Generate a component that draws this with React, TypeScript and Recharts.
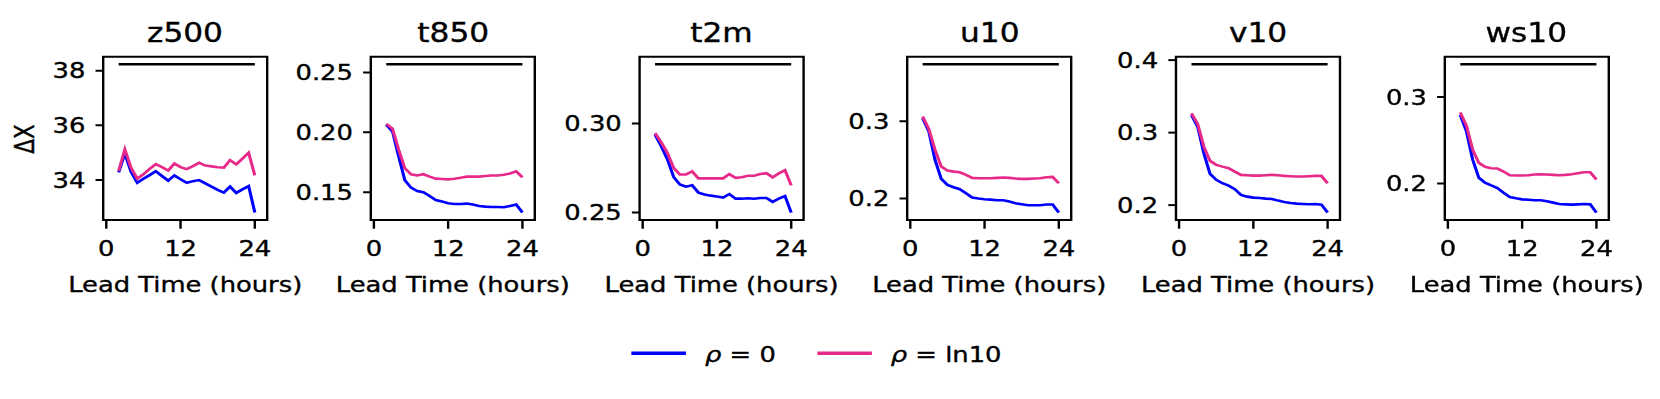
import { LineChart, Line, XAxis, YAxis, ReferenceArea } from 'recharts'

// lead time in hours
const hours = [2, 3, 4, 5, 6, 7, 8, 9, 10, 11, 12, 13, 14, 15, 16, 17, 18, 19, 20, 21, 22, 23, 24]

const z500Rho0 = [34.28, 34.97, 34.3, 33.9, 34.05, 34.18, 34.32, 34.15, 33.98, 34.17, 34.03, 33.9, 33.96, 34.0, 33.88, 33.76, 33.64, 33.54, 33.76, 33.53, 33.66, 33.78, 32.81]
const z500Ln10 = [34.33, 35.12, 34.45, 34.05, 34.21, 34.41, 34.58, 34.47, 34.35, 34.6, 34.47, 34.4, 34.51, 34.63, 34.53, 34.5, 34.47, 34.45, 34.73, 34.57, 34.78, 35.0, 34.17]
const t850Rho0 = [0.2064, 0.2008, 0.18, 0.16, 0.1538, 0.151, 0.15, 0.1468, 0.1435, 0.1422, 0.1408, 0.1402, 0.1402, 0.1405, 0.1397, 0.1385, 0.138, 0.1377, 0.1377, 0.1374, 0.1385, 0.1397, 0.133]
const t850Ln10 = [0.207, 0.203, 0.1856, 0.17, 0.1649, 0.164, 0.165, 0.163, 0.1613, 0.161, 0.1607, 0.1613, 0.162, 0.163, 0.163, 0.163, 0.1635, 0.164, 0.164, 0.1646, 0.1657, 0.1674, 0.1624]
const t2mRho0 = [0.2937, 0.2872, 0.2798, 0.27, 0.2658, 0.2645, 0.2653, 0.2612, 0.2602, 0.2595, 0.259, 0.2584, 0.2604, 0.2578, 0.2578, 0.258, 0.2578, 0.2582, 0.2582, 0.256, 0.2578, 0.2593, 0.25]
const t2mLn10 = [0.2946, 0.2894, 0.2835, 0.2751, 0.2714, 0.2714, 0.2731, 0.2692, 0.2692, 0.2692, 0.2692, 0.2692, 0.2716, 0.2695, 0.2698, 0.2707, 0.2707, 0.2716, 0.2721, 0.2698, 0.272, 0.2738, 0.2653]
const u10Rho0 = [0.304, 0.2867, 0.25, 0.2255, 0.2177, 0.2147, 0.2121, 0.207, 0.2013, 0.2, 0.1991, 0.1987, 0.1979, 0.1979, 0.1961, 0.194, 0.1927, 0.1914, 0.1914, 0.1914, 0.1923, 0.1923, 0.1819]
const u10Ln10 = [0.3061, 0.2898, 0.263, 0.2414, 0.2362, 0.2349, 0.2341, 0.2307, 0.2268, 0.2264, 0.2264, 0.2264, 0.2268, 0.2272, 0.2268, 0.2259, 0.2255, 0.2255, 0.2259, 0.2264, 0.2277, 0.228, 0.2199]
const v10Rho0 = [0.3244, 0.3083, 0.2716, 0.243, 0.2348, 0.2302, 0.2269, 0.222, 0.2141, 0.2117, 0.2103, 0.2099, 0.209, 0.2085, 0.2062, 0.2044, 0.203, 0.2021, 0.2016, 0.2012, 0.2016, 0.2007, 0.1897]
const v10Ln10 = [0.3268, 0.312, 0.2807, 0.261, 0.2555, 0.2531, 0.2509, 0.2462, 0.2417, 0.2412, 0.2407, 0.2407, 0.2412, 0.2417, 0.2412, 0.2403, 0.2398, 0.2394, 0.2394, 0.2398, 0.2403, 0.2403, 0.2302]
const ws10Rho0 = [0.2793, 0.2601, 0.2276, 0.2066, 0.2008, 0.1977, 0.1946, 0.1893, 0.1843, 0.1828, 0.1816, 0.1812, 0.1805, 0.1805, 0.1793, 0.1778, 0.1762, 0.1758, 0.1755, 0.1758, 0.1762, 0.1758, 0.1663]
const ws10Ln10 = [0.282, 0.2667, 0.2391, 0.2238, 0.2192, 0.2176, 0.2172, 0.2138, 0.2095, 0.2092, 0.2092, 0.2095, 0.2103, 0.2107, 0.2103, 0.2099, 0.2095, 0.2099, 0.2107, 0.2119, 0.213, 0.213, 0.2046]

// black reference level per variable
const refLevels = [38.24, 0.2569, 0.3333, 0.374, 0.3945, 0.338]
const titles = ['z500', 't850', 't2m', 'u10', 'v10', 'ws10']
const yTicks = [[34, 36, 38], [0.15, 0.2, 0.25], [0.25, 0.3], [0.2, 0.3], [0.2, 0.3, 0.4], [0.2, 0.3]]
const tickDigits = [0, 2, 2, 1, 1, 1]
const xTicks = [0, 12, 24]

const rho0 = [z500Rho0, t850Rho0, t2mRho0, u10Rho0, v10Rho0, ws10Rho0]
const ln10 = [z500Ln10, t850Ln10, t2mLn10, u10Ln10, v10Ln10, ws10Ln10]

const FONT = '"DejaVu Sans", sans-serif'
const SX = 1.2 // the whole figure is stretched horizontally
const BOX_W = 136.67
const Y_W = 80
const RIGHT = 50
const X_DOMAIN = [-0.5, 26]
const BLUE = '#0000ff'
const PINK = '#e7298a'
const TEXT_STROKE = 0.35
const FS = 21.5

function Panel({ i }: { i: number }) {
  const data = hours.map((h, k) => ({ hour: h, rho0: rho0[i][k], ln10: ln10[i][k], ref: refLevels[i] }))
  const all = [...rho0[i], ...ln10[i], refLevels[i]]
  const lo = Math.min(...all)
  const hi = Math.max(...all)
  const pad = (hi - lo) * 0.05
  const domain = [lo - pad, hi + pad]
  const left = 85.83 + i * 223.55 - Y_W
  const tickStyle = { fill: '#000', fontSize: FS, fontFamily: FONT, stroke: '#000', strokeWidth: TEXT_STROKE }

  return (
    <div style={{ position: 'absolute', left, top: 0 }}>
      <div
        style={{
          position: 'absolute', left: Y_W, width: BOX_W, top: 20, textAlign: 'center',
          fontSize: 26, lineHeight: '26px', fontFamily: FONT, color: '#000', whiteSpace: 'nowrap',
          WebkitTextStroke: `${TEXT_STROKE}px #000`
        }}
      >
        {titles[i]}
      </div>
      <LineChart width={Y_W + BOX_W + RIGHT} height={300} data={data} margin={{ top: 56.7, right: RIGHT, bottom: 0, left: 0 }}>
        <XAxis
          dataKey="hour"
          type="number"
          domain={X_DOMAIN}
          allowDataOverflow
          ticks={xTicks}
          height={80}
          tickSize={8.7}
          tickMargin={12}
          axisLine={false}
          tickLine={{ stroke: '#000', strokeWidth: 2 }}
          tick={tickStyle}
          label={{ value: 'Lead Time (hours)', position: 'insideBottom', offset: 8, ...tickStyle }}
        />
        <YAxis
          type="number"
          domain={domain}
          allowDataOverflow
          ticks={yTicks[i]}
          tickFormatter={(v: number) => v.toFixed(tickDigits[i])}
          width={Y_W}
          tickSize={6.4}
          tickMargin={8.5}
          axisLine={false}
          tickLine={{ stroke: '#000', strokeWidth: 2 }}
          tick={tickStyle}
        />
        <ReferenceArea x1={X_DOMAIN[0]} x2={X_DOMAIN[1]} y1={domain[0]} y2={domain[1]} fill="none" fillOpacity={0} stroke="#000" strokeWidth={2} />
        <Line dataKey="ref" stroke="#000" strokeWidth={2.5} dot={false} isAnimationActive={false} />
        <Line dataKey="rho0" stroke={BLUE} strokeWidth={2.6} dot={false} isAnimationActive={false} />
        <Line dataKey="ln10" stroke={PINK} strokeWidth={2.6} dot={false} isAnimationActive={false} />
      </LineChart>
    </div>
  )
}

function LegendItem({ x, color, label }: { x: number; color: string; label: React.ReactNode }) {
  return (
    <>
      <svg style={{ position: 'absolute', left: x, top: 343 }} width={46} height={20}>
        <line x1={0} x2={45.6} y1={10.3} y2={10.3} stroke={color} strokeWidth={3.5} />
      </svg>
      <span
        style={{
          position: 'absolute', left: x + 61.7, top: 344, fontSize: FS, lineHeight: '21px',
          fontFamily: FONT, color: '#000', whiteSpace: 'nowrap', WebkitTextStroke: `${TEXT_STROKE}px #000`
        }}
      >
        {label}
      </span>
    </>
  )
}

export default function App() {
  return (
    <div
      style={{
        position: 'absolute', left: 0, top: 0, width: 1660 / SX, height: 399, background: '#fff',
        transform: `scaleX(${SX})`, transformOrigin: '0 0'
      }}
    >
      {titles.map((_, i) => (
        <Panel key={i} i={i} />
      ))}
      <div
        style={{
          position: 'absolute', left: 20.8, top: 138.5, transform: 'translate(-50%, -50%) rotate(-90deg)',
          fontSize: FS, lineHeight: '21px', fontFamily: FONT, color: '#000', whiteSpace: 'nowrap',
          WebkitTextStroke: `${TEXT_STROKE}px #000`
        }}
      >
        ΔX
      </div>
      <LegendItem x={525.8} color={BLUE} label={<><i>ρ</i> = 0</>} />
      <LegendItem x={680.6} color={PINK} label={<><i>ρ</i> = ln10</>} />
    </div>
  )
}
